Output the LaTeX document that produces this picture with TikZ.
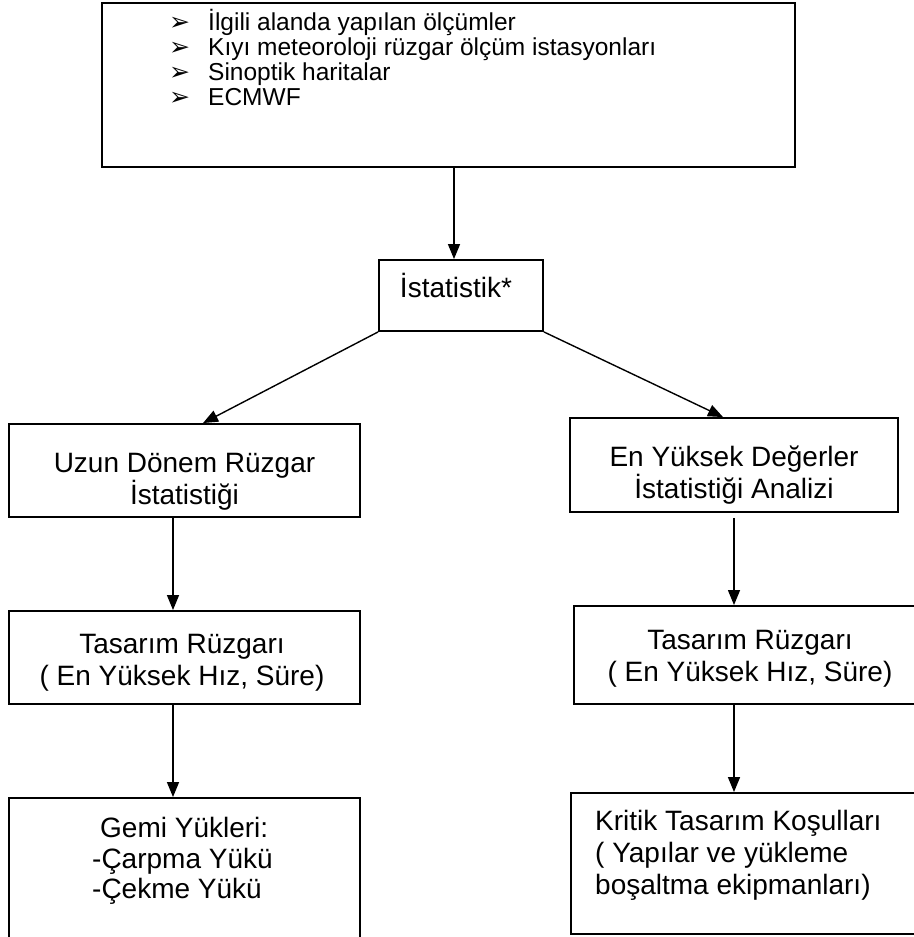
\documentclass[tikz,border=0pt]{standalone}
\usepackage{fontspec}
\setmainfont{Liberation Sans}
\newfontfamily\dvfont{DejaVu Sans}
\usetikzlibrary{arrows.meta}
\begin{document}
\begin{tikzpicture}[x=1pt,y=-1pt,
  box/.style={draw, line width=1.9pt, inner sep=0pt, rectangle},
  lbl/.style={inner sep=0pt, anchor=base, font=\fontsize{28}{32}\selectfont},
  lblw/.style={inner sep=0pt, anchor=base west, font=\fontsize{28}{32}\selectfont},
  toptxt/.style={inner sep=0pt, anchor=base west, font=\fontsize{24.5}{25}\selectfont},
  bul/.style={inner sep=0pt, anchor=base west, font=\dvfont\fontsize{25}{25}\selectfont},
  arr/.style={line width=1.4pt, -{Triangle[length=15pt,width=12pt]}},
  ln/.style={line width=1.4pt}]
\useasboundingbox (0,0) rectangle (913,937);

% boxes
\node[box, minimum width=693pt, minimum height=164pt] (top) at (448.5,85) {};
\node[box, minimum width=164pt, minimum height=71pt] (stat) at (461,295.5) {};
\node[box, minimum width=351pt, minimum height=93pt] (L1) at (184.5,470.5) {};
\node[box, minimum width=328pt, minimum height=94pt] (R1) at (734,465) {};
\node[box, minimum width=351pt, minimum height=93pt] (L2) at (184.5,657.5) {};
\node[box, minimum width=352pt, minimum height=98pt] (R2) at (750,655) {};
\node[box, minimum width=351pt, minimum height=162pt] (gemi) at (184.5,879) {};
\node[box, minimum width=358pt, minimum height=141pt] (krit) at (750,863.5) {};

% top box list
\node[bul] (b1) at (169,30) {➢};
\node[bul] (b2) at (169,55) {➢};
\node[bul] (b3) at (169,80) {➢};
\node[bul] (b4) at (169,105) {➢};
\node[toptxt] (t1) at (208,30) {İlgili alanda yapılan ölçümler};
\node[toptxt] (t2) at (208,55) {Kıyı meteoroloji rüzgar ölçüm istasyonları};
\node[toptxt] (t3) at (208,80) {Sinoptik haritalar};
\node[toptxt] (t4) at (208,105) {ECMWF};

% texts
\node[lbl] (st) at (456,297) {İstatistik*};
\node[lbl] (l1a) at (184.5,472) {Uzun Dönem Rüzgar};
\node[lbl] (l1b) at (184.5,504) {İstatistiği};
\node[lbl] (r1a) at (734,466) {En Yüksek Değerler};
\node[lbl] (r1b) at (734,498) {İstatistiği Analizi};
\node[lbl] (l2a) at (182,653) {Tasarım Rüzgarı};
\node[lbl] (l2b) at (182,685) {( En Yüksek Hız, Süre)};
\node[lbl] (r2a) at (750,649) {Tasarım Rüzgarı};
\node[lbl] (r2b) at (750,681) {( En Yüksek Hız, Süre)};
\node[lblw] (g1) at (100,837) {Gemi Yükleri:};
\node[lblw] (g2) at (92,868) {-Çarpma Yükü};
\node[lblw] (g3) at (92,898) {-Çekme Yükü};
\node[lblw] (k1) at (595,830) {Kritik Tasarım Koşulları};
\node[lblw] (k2) at (595,862) {( Yapılar ve yükleme};
\node[lblw] (k3) at (595,894) {boşaltma ekipmanları)};

% connectors
\draw[arr] ([xshift=5.5pt]top.south) -- ([xshift=-7pt]stat.north);
\draw[arr] (stat.south west) -- ([xshift=18.5pt]L1.north);
\draw[arr] (stat.south east) -- ([xshift=-11pt]R1.north);
\draw[arr] ([xshift=-11.5pt]L1.south) -- ([xshift=-11.5pt]L2.north);
\draw[arr] ([yshift=-5pt]R1.south) -- ([xshift=-16pt]R2.north);
\draw[arr] ([xshift=-11.5pt]L2.south) -- ([xshift=-11.5pt]gemi.north);
\draw[arr] ([xshift=-16pt]R2.south) -- ([xshift=-16pt]krit.north);
\end{tikzpicture}
\end{document}
